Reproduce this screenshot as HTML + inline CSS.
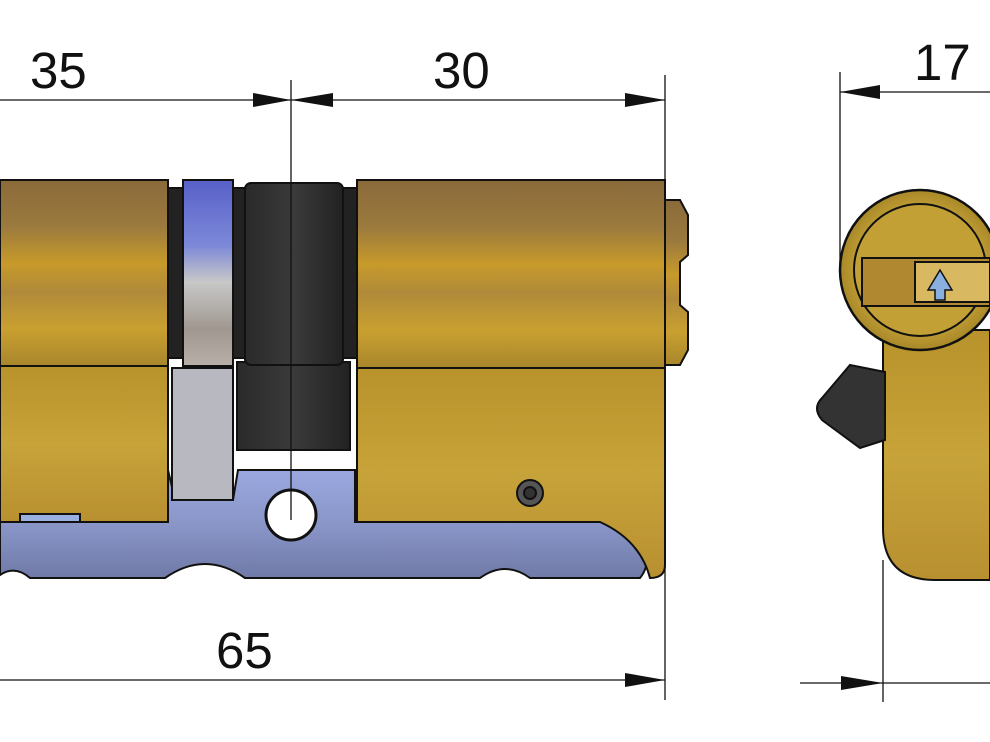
<!DOCTYPE html>
<html><head><meta charset="utf-8"><style>
html,body{margin:0;padding:0;background:#fff}
svg{display:block}
text{font-family:"Liberation Sans",sans-serif;font-size:51px;fill:#111}
</style></head><body>
<svg width="990" height="742" viewBox="0 0 990 742" xmlns="http://www.w3.org/2000/svg">
<defs>
<linearGradient id="brass" x1="0" y1="0" x2="0" y2="1">
<stop offset="0" stop-color="#8a6a3a"/><stop offset="0.25" stop-color="#9b7a3e"/>
<stop offset="0.45" stop-color="#c79a2a"/><stop offset="0.6" stop-color="#b08a3a"/>
<stop offset="0.8" stop-color="#c9a030"/><stop offset="1" stop-color="#a8862c"/></linearGradient>
<linearGradient id="gold" x1="0" y1="0" x2="0" y2="1">
<stop offset="0" stop-color="#b8922a"/><stop offset="0.5" stop-color="#c7a33a"/><stop offset="1" stop-color="#b89030"/></linearGradient>
<linearGradient id="blue" x1="0" y1="0" x2="0" y2="1">
<stop offset="0" stop-color="#5860c8"/><stop offset="0.35" stop-color="#7c88d8"/>
<stop offset="0.55" stop-color="#c8c8c8"/><stop offset="0.8" stop-color="#a09890"/><stop offset="1" stop-color="#b8b0a8"/></linearGradient>
<linearGradient id="bar" x1="0" y1="0" x2="0" y2="1">
<stop offset="0" stop-color="#9aa8e0"/><stop offset="0.5" stop-color="#8a96c8"/><stop offset="1" stop-color="#6f7aa8"/></linearGradient>
<linearGradient id="blk" x1="0" y1="0" x2="1" y2="0">
<stop offset="0" stop-color="#2a2a2a"/><stop offset="0.5" stop-color="#3a3a3a"/><stop offset="1" stop-color="#222"/></linearGradient>
<radialGradient id="rg" cx="0.5" cy="0.5" r="0.5">
<stop offset="0.7" stop-color="#c9a53a"/><stop offset="1" stop-color="#a88828"/></radialGradient>
</defs>
<g stroke="#111" stroke-width="2">
<path d="M0 470 H168 L175 500 H233 L238 470 H355 V522 L640 522 Q655 560 640 578 H530 Q505 560 480 578 H245 Q205 550 165 578 H30 Q15 565 0 575 Z" fill="url(#bar)"/>
<rect x="0" y="366" width="168" height="156" fill="url(#gold)"/>
<path d="M357 366 H665 V565 Q665 578 650 578 Q640 540 600 522 H357 Z" fill="url(#gold)"/>
<rect x="20" y="514" width="60" height="8" fill="#9ab0e0"/>
<rect x="172" y="368" width="61" height="132" fill="#b8b8c0"/>
<rect x="0" y="180" width="168" height="186" fill="url(#brass)"/>
<rect x="168" y="188" width="15" height="170" fill="#222"/>
<rect x="183" y="180" width="50" height="186" fill="url(#blue)"/>
<rect x="233" y="188" width="12" height="170" fill="#222"/>
<rect x="237" y="362" width="113" height="88" fill="url(#blk)"/>
<rect x="245" y="183" width="98" height="182" rx="6" fill="url(#blk)"/>
<rect x="343" y="188" width="14" height="170" fill="#222"/>
<rect x="357" y="180" width="308" height="188" fill="url(#brass)"/>
<path d="M665 200 L680 200 L688 215 V255 L680 262 V305 L688 312 V350 L680 365 H665 Z" fill="url(#brass)"/>
<circle cx="291" cy="515" r="25" fill="#fff" stroke-width="3"/>
<circle cx="530" cy="493" r="13" fill="#555"/>
<circle cx="530" cy="493" r="6" fill="#333"/>
<path d="M883 330 H990 V580 H935 Q883 580 883 528 Z" fill="url(#gold)"/>
<path d="M850 365 L885 372 L885 440 L860 448 L822 420 Q812 408 822 398 Z" fill="#333"/>
<circle cx="920" cy="270" r="80" fill="url(#rg)" stroke-width="2.5"/>
<circle cx="920" cy="270" r="66" fill="#c2a036"/>
<rect x="862" y="258" width="128" height="48" fill="#b08830"/>
<rect x="915" y="262" width="75" height="40" fill="#d8b860"/>
<path d="M940 270 L952 290 L945 290 L945 300 L935 300 L935 290 L928 290 Z" fill="#8ab0e0" stroke-width="1.5"/>
</g>
<g stroke="#111" stroke-width="1.3" fill="none">
<line x1="0" y1="100" x2="665" y2="100"/>
<line x1="291" y1="80" x2="291" y2="520"/>
<line x1="665" y1="75" x2="665" y2="700"/>
<line x1="0" y1="680" x2="665" y2="680"/>
<line x1="840" y1="92" x2="990" y2="92"/>
<line x1="840" y1="72" x2="840" y2="262"/>
<line x1="800" y1="683" x2="990" y2="683"/>
<line x1="883" y1="560" x2="883" y2="702"/>
</g>
<g fill="#111">
<path d="M291 100 L253 93 L253 107 Z"/>
<path d="M291 100 L333 93 L333 107 Z"/>
<path d="M665 100 L625 93 L625 107 Z"/>
<path d="M665 680 L625 673 L625 687 Z"/>
<path d="M840 92 L880 85 L880 99 Z"/>
<path d="M883 683 L841 676 L841 690 Z"/>
</g>
<text x="30" y="88">35</text>
<text x="433" y="88">30</text>
<text x="216" y="668">65</text>
<text x="914" y="80">17</text>
</svg>
</body></html>
